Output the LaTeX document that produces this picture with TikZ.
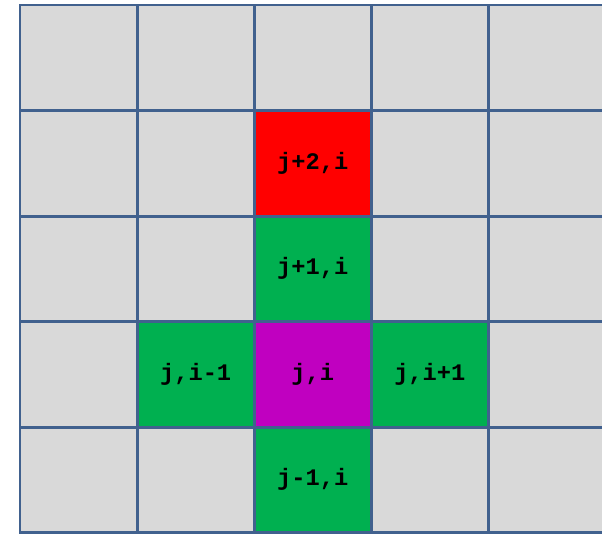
\documentclass[tikz,border=0pt]{standalone}
\usepackage{fontspec}
\setmonofont{Liberation Mono}
\usetikzlibrary{positioning}
\definecolor{Cell}{HTML}{D9D9D9}
\definecolor{Edge}{HTML}{41618E}
\definecolor{Hot}{HTML}{FF0000}
\definecolor{Near}{HTML}{00B050}
\definecolor{Centre}{HTML}{C000C0}

\begin{document}
\begin{tikzpicture}[x=0.02cm,y=-0.02cm,
    c/.style={draw=Edge,line width=1.7pt,minimum width=2.342cm,minimum height=2.112cm,
      inner sep=0pt,outer sep=0pt,text height=0.85em,text depth=0.2em,
      font=\ttfamily\bfseries\fontsize{13.5}{16}\selectfont},
    g/.style={c,fill=Cell,anchor=north west}]
    \useasboundingbox (0,0) rectangle (602,534);
    \clip (0,0) rectangle (602,534);
    % background grid
    \foreach \r in {0,...,4}
      \foreach \k in {0,...,4}
        \node[g] (g\r\k) at ({20+117.1*\k},{5+105.6*\r}) {};
    % stencil
    \node[c,fill=Hot] (jp2) at (g12) {j+2,i};
    \node[c,fill=Near] (jp1) at (g22) {j+1,i};
    \node[c,fill=Near] (jim1) at (g31) {j,i-1};
    \node[c,fill=Centre] (ji) at (g32) {j,i};
    \node[c,fill=Near] (jip1) at (g33) {j,i+1};
    \node[c,fill=Near] (jm1) at (g42) {j-1,i};
  \end{tikzpicture}
\end{document}
